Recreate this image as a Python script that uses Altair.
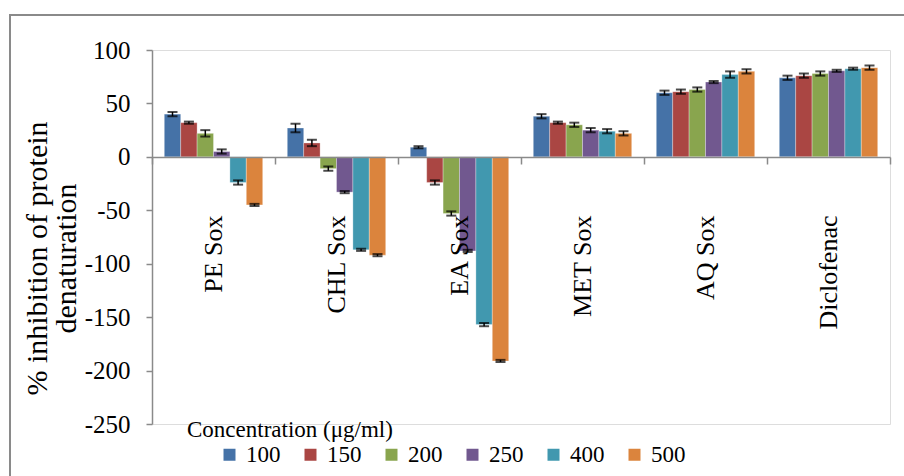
import altair as alt
import pandas as pd

# Extracts on the category axis and tested concentrations (µg/ml)
categories = ["PE Sox", "CHL Sox", "EA Sox", "MET Sox", "AQ Sox", "Diclofenac"]
concentrations = ["100", "150", "200", "250", "400", "500"]

# % inhibition of protein denaturation per concentration (one value per extract)
inh_100 = [40, 27, 9, 38, 60, 74]
inh_150 = [32, 13, -24, 32, 61, 76]
inh_200 = [22, -11, -53, 30, 63, 78]
inh_250 = [5, -33, -88, 25, 70, 80.5]
inh_400 = [-24, -87, -157, 24, 77, 82.5]
inh_500 = [-45, -92, -191, 22, 80, 83.5]

# Standard error for each bar
err_100 = [2, 4, 1, 2, 2, 2]
err_150 = [1, 3, 2, 1, 2, 2]
err_200 = [3, 2, 2, 2, 2, 2]
err_250 = [2, 1, 1, 2, 1, 1]
err_400 = [2, 1, 1.5, 2, 3, 1]
err_500 = [1, 1, 1, 2, 2, 2]

colors = ["#4572A7", "#AA4643", "#89A54E", "#71588F", "#4198AF", "#DB843D"]

values = [inh_100, inh_150, inh_200, inh_250, inh_400, inh_500]
errors = [err_100, err_150, err_200, err_250, err_400, err_500]

rows = []
for conc, vals, errs in zip(concentrations, values, errors):
    for cat, v, e in zip(categories, vals, errs):
        rows.append({"extract": cat, "conc": conc, "value": v,
                     "lo": v - e, "hi": v + e})
df = pd.DataFrame(rows)

FONT = "Liberation Serif"
GREY = "#8a8a8a"

x_axis = alt.Axis(
    title=None, orient="bottom", offset=-267, zindex=1,
    domainColor=GREY, domainWidth=1.5,
    tickColor=GREY, tickWidth=1.5, tickSize=7, tickBand="extent",
    labelAngle=270, labelAlign="right", labelBaseline="middle",
    labelPadding=51, labelFont=FONT, labelFontSize=26, labelColor="black",
)
x_enc = alt.X("extract:N", sort=categories,
              scale=alt.Scale(paddingInner=0, paddingOuter=0), axis=x_axis)
xo_enc = alt.XOffset("conc:N", sort=concentrations,
                     scale=alt.Scale(paddingInner=0, paddingOuter=0.75))

y_axis = alt.Axis(
    title=["% inhibition of protein", "denaturation"],
    values=[-250, -200, -150, -100, -50, 0, 50, 100],
    labelExpr="'' + datum.value",
    grid=False, domainColor=GREY, domainWidth=1.5,
    tickColor=GREY, tickWidth=1.5, tickSize=6,
    labelFont=FONT, labelFontSize=25, labelColor="black", labelPadding=16,
    titleFont=FONT, titleFontSize=30, titleFontWeight="normal",
    titleColor="black", titleLineHeight=29,
    titleAngle=270, titleAlign="center", titleBaseline="middle",
    titleX=-115, titleY=208,
)
y_scale = alt.Scale(domain=[-250, 100], nice=False)
y_enc = alt.Y("value:Q", scale=y_scale, axis=y_axis)

base = alt.Chart(df)

bars = base.mark_bar(stroke="white", strokeWidth=0.5, strokeOpacity=0.6).encode(
    x=x_enc, xOffset=xo_enc, y=y_enc,
    color=alt.Color(
        "conc:N", sort=concentrations,
        scale=alt.Scale(domain=concentrations, range=colors),
        legend=alt.Legend(
            title=None, orient="none", direction="horizontal", columns=6,
            legendX=66, legendY=393, padding=0, offset=0, symbolType="square",
            symbolSize=144, symbolStrokeWidth=0, labelFont=FONT,
            labelFontSize=23, labelColor="black", labelOffset=5,
            columnPadding=18,
        ),
    ),
)

whisker = base.mark_rule(color="black", strokeWidth=1.5).encode(
    x=x_enc, xOffset=xo_enc,
    y=alt.Y("lo:Q", scale=y_scale, axis=y_axis),
    y2="hi:Q",
)

cap_lo = base.mark_tick(color="black", thickness=2, size=10, orient="horizontal").encode(
    x=x_enc, xOffset=xo_enc,
    y=alt.Y("lo:Q", scale=y_scale, axis=y_axis),
)
cap_hi = base.mark_tick(color="black", thickness=2, size=10, orient="horizontal").encode(
    x=x_enc, xOffset=xo_enc,
    y=alt.Y("hi:Q", scale=y_scale, axis=y_axis),
)

legend_title = alt.Chart(pd.DataFrame({"t": ["Concentration (μg/ml)"]})).mark_text(
    align="left", baseline="alphabetic", font=FONT, fontSize=23, color="black"
).encode(x=alt.value(35), y=alt.value(387), text="t:N")

frame = alt.Chart(pd.DataFrame({"k": [0]})).mark_rect(
    fillOpacity=0, stroke=GREY, strokeWidth=2
).encode(x=alt.value(-142), x2=alt.value(770), y=alt.value(-35), y2=alt.value(440))

chart = alt.layer(frame, bars, whisker, cap_lo, cap_hi, legend_title).properties(
    width=738, height=374,
    autosize=alt.AutoSizeParams(type="none"),
    padding={"left": 152, "top": 50, "right": 14, "bottom": 52},
).configure_view(stroke=None).configure(background="white")

chart.save("out.html", embed_options={"renderer": "svg", "actions": False})
